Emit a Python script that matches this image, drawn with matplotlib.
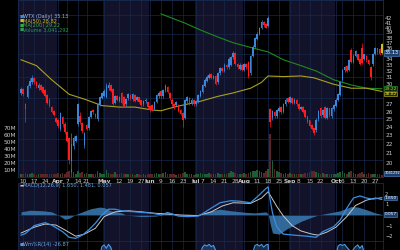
import matplotlib
matplotlib.use('Agg')
import matplotlib.pyplot as plt
import numpy as np
import pandas as pd

# trading days shown (Mar 7 - Oct 30 2014)
holidays = ['2014-04-18', '2014-05-26', '2014-07-04', '2014-09-01']
days = pd.bdate_range('2014-03-07', '2014-10-30')
days = days[~days.isin(pd.to_datetime(holidays))]

opens = [28.6, 29.2, 27.0, 28.0, 29.6, 30.2, 30.8, 30.2, 29.3, 29.8, 29.4, 29.0, 28.3, 27.6, 26.6, 26.0, 25.1, 24.9,
         23.8, 25.2, 24.4, 23.4, 22.6, 20.2, 21.8, 22.4, 24.4, 25.4, 24.5, 21.9, 24.2, 23.9, 25.3, 26.2, 25.6, 25.0, 27.0, 27.9, 28.2,
         28.0, 29.4, 29.7, 29.2, 27.2, 28.1, 27.5, 28.6, 28.0, 27.0, 27.8, 28.3, 27.7, 28.3, 27.6, 27.9, 27.5, 27.0, 27.4, 27.2, 26.7,
         26.9, 26.4, 27.3, 28.1, 28.8, 28.1, 29.0, 29.4, 28.5, 27.6, 27.0, 26.9, 26.8, 26.2, 25.8, 25.2, 27.4, 27.8, 27.1, 27.5, 27.0,
         27.4, 28.2, 28.8, 29.7, 30.4, 30.9, 31.4, 30.9, 31.1, 30.2, 31.6, 32.4, 32.0, 33.0, 32.6, 33.0, 34.3, 35.0, 33.2, 32.4, 33.0, 32.2,
         33.2, 33.5, 31.6, 34.6, 36.2, 37.8, 38.6, 39.9, 41.2, 40.6, 40.4, 26.3, 25.2, 25.9, 25.4, 26.1, 26.5, 26.0, 27.0, 27.8, 27.3,
         27.8, 27.2, 27.6, 27.0, 26.4, 26.6, 26.1, 25.3, 24.8, 24.2, 23.8, 23.6, 25.0, 26.4, 25.5, 26.5, 25.2, 26.4, 25.4, 26.3, 26.8,
         27.6, 28.3, 30.6, 32.1, 32.8, 32.2, 35.6, 33.5, 34.6, 34.8, 34.0, 35.9, 34.0, 34.6, 33.8, 32.6, 33.1, 35.0, 35.9, 35.8, 36.8]
closes = [29.2, 28.4, 26.3, 29.6, 30.4, 30.9, 30.2, 29.6, 29.8, 29.1, 28.6, 28.2, 27.2, 26.8, 26.0, 25.6, 24.7, 24.1,
          25.7, 24.4, 23.4, 22.4, 20.3, 22.0, 22.6, 22.9, 27.0, 24.6, 23.5, 23.2, 23.8, 25.2, 26.0, 25.9, 25.3, 27.0, 28.0, 28.5, 28.8,
          29.6, 29.8, 28.9, 27.0, 28.1, 27.6, 28.0, 27.2, 26.8, 27.7, 28.4, 27.8, 28.4, 27.5, 27.9, 27.3, 26.9, 27.4, 27.6, 26.6, 26.2,
          26.3, 27.3, 28.2, 28.6, 28.1, 29.0, 29.6, 28.8, 27.8, 27.0, 26.6, 27.3, 26.1, 25.7, 24.9, 27.5, 27.9, 27.1, 27.6, 27.0, 27.4,
          28.3, 28.9, 29.8, 30.5, 31.0, 31.3, 30.9, 31.2, 30.0, 31.6, 32.4, 32.0, 33.0, 32.6, 34.0, 34.3, 35.1, 33.2, 32.6, 33.0, 32.2, 33.2,
          32.6, 31.2, 34.6, 36.2, 37.8, 38.6, 39.8, 41.2, 40.5, 40.0, 42.0, 24.6, 26.0, 25.4, 26.2, 26.4, 25.9, 27.0, 27.6, 27.3, 27.9,
          27.2, 27.6, 27.0, 26.4, 26.6, 26.0, 25.3, 24.7, 24.2, 23.8, 23.3, 24.9, 26.0, 25.4, 26.2, 25.2, 26.4, 25.5, 26.4, 26.8, 27.6,
          28.4, 30.2, 32.2, 32.6, 32.0, 33.8, 33.6, 34.6, 35.4, 33.9, 33.2, 33.4, 34.8, 33.8, 33.2, 31.1, 34.9, 35.9, 35.2, 35.0, 35.13]
highs = [29.5, 29.4, 27.2, 29.9, 30.9, 31.3, 31.0, 30.4, 30.1, 30.0, 29.6, 29.2, 28.5, 27.8, 26.8, 26.2, 25.3, 25.0,
         25.9, 25.4, 24.6, 23.5, 22.8, 23.3, 22.9, 23.1, 27.2, 26.0, 24.7, 23.4, 24.4, 25.4, 26.2, 26.4, 25.8, 27.2, 28.2, 28.8, 29.2,
         30.1, 30.2, 29.9, 29.4, 28.3, 28.3, 28.2, 28.8, 28.2, 27.9, 28.6, 28.5, 28.6, 28.5, 28.1, 28.0, 27.6, 27.6, 27.8, 27.3, 26.9,
         27.0, 27.5, 28.4, 28.9, 29.0, 29.2, 30.0, 29.6, 28.7, 27.8, 27.2, 27.5, 27.0, 26.4, 26.0, 27.7, 28.1, 28.0, 27.8, 27.7, 27.6,
         28.5, 29.1, 30.0, 30.8, 31.3, 31.6, 31.6, 31.4, 31.3, 31.8, 32.7, 32.6, 33.3, 33.2, 34.3, 34.6, 35.4, 35.2, 33.4, 33.3, 33.2, 33.4,
         33.4, 33.7, 34.8, 36.5, 38.1, 39.0, 40.1, 41.6, 41.4, 40.9, 42.4, 26.5, 26.2, 26.1, 26.4, 26.7, 26.7, 27.2, 27.9, 28.0, 28.1,
         28.0, 27.8, 27.7, 27.2, 26.8, 26.8, 26.2, 25.4, 24.9, 24.4, 23.9, 25.1, 26.2, 26.6, 26.4, 26.7, 26.6, 26.5, 26.6, 27.0, 27.8,
         28.6, 30.4, 32.4, 32.9, 33.0, 34.0, 36.0, 34.9, 35.7, 35.0, 34.2, 36.9, 35.0, 34.8, 34.0, 32.8, 35.1, 36.2, 36.1, 36.0, 36.9]
lows = [28.3, 28.1, 24.7, 27.8, 29.3, 29.9, 30.0, 29.4, 29.0, 28.9, 28.4, 28.0, 27.0, 26.6, 25.8, 25.4, 24.5, 23.9,
        23.5, 24.0, 23.2, 22.2, 19.9, 19.1, 21.4, 22.2, 24.2, 24.4, 23.3, 21.6, 23.6, 23.7, 25.1, 25.7, 25.1, 24.8, 26.8, 27.7, 28.0,
        27.8, 29.1, 28.7, 26.8, 27.0, 27.4, 27.3, 27.0, 26.6, 26.8, 27.6, 27.6, 27.5, 27.3, 27.4, 27.1, 26.7, 26.8, 27.2, 26.4, 26.0,
        26.1, 26.2, 27.1, 27.9, 27.9, 27.9, 28.8, 28.6, 27.6, 26.8, 26.4, 26.7, 25.9, 25.5, 24.0, 25.0, 27.2, 26.9, 26.9, 26.8, 26.8,
        27.2, 28.0, 28.6, 29.5, 30.2, 30.7, 30.7, 30.7, 29.8, 30.0, 31.4, 31.8, 31.8, 32.4, 32.4, 32.8, 34.1, 33.0, 32.4, 32.2, 32.0, 32.0,
        32.4, 30.9, 31.4, 34.4, 36.0, 37.6, 38.4, 39.7, 40.2, 39.8, 40.2, 24.0, 24.9, 25.2, 25.2, 25.9, 25.7, 25.8, 26.8, 27.1, 27.1,
        27.0, 27.0, 26.8, 26.2, 26.2, 25.8, 25.1, 24.5, 24.0, 23.6, 23.1, 23.4, 24.8, 25.2, 25.3, 25.0, 25.0, 25.3, 25.2, 26.1, 26.6,
        27.4, 28.1, 30.4, 31.9, 31.8, 32.0, 33.4, 33.3, 34.4, 33.7, 33.0, 33.2, 33.8, 33.6, 33.0, 30.6, 32.9, 34.8, 35.0, 34.8, 35.0]
volumes = [4, 5, 6, 4, 5, 6, 4, 3, 4, 5, 4, 4, 5, 4, 5, 5, 4, 6,
           5, 6, 5, 7, 9, 12, 7, 5, 9, 6, 7, 5, 6, 5, 4, 4, 5, 8, 6, 5, 5,
           10, 6, 5, 5, 7, 4, 5, 6, 5, 4, 5, 4, 4, 3, 4, 4, 3, 4, 3, 4, 5,
           4, 5, 6, 5, 4, 6, 7, 5, 5, 4, 4, 3, 4, 4, 6, 7, 5, 4, 4, 3, 4,
           5, 6, 5, 4, 5, 6, 4, 4, 5, 6, 5, 4, 5, 5, 6, 8, 7, 6, 5, 4, 5, 6,
           5, 6, 7, 8, 9, 10, 8, 7, 6, 9, 11, 62, 24, 12, 9, 7, 6, 5, 6, 5, 6,
           4, 5, 5, 4, 4, 5, 6, 6, 7, 8, 9, 7, 6, 5, 6, 5, 5, 4, 5, 4, 5,
           6, 7, 8, 6, 5, 7, 8, 6, 5, 5, 6, 7, 5, 5, 6, 5, 4, 5, 4, 4, 3]

# moving averages (day index, value)
ma50_days = [0, 7, 14, 22, 29, 37, 45, 52, 60, 64, 70, 76, 82, 90, 97, 105, 110, 113, 120, 128, 134, 143, 151, 158, 165]
ma50_vals = [33.9, 32.9, 30.6, 28.4, 27.7, 26.8, 26.6, 26.6, 26.2, 26.1, 26.6, 27.0, 27.4, 28.1, 28.6, 29.3, 30.2, 31.2,
             31.1, 31.2, 30.9, 29.9, 29.3, 29.3, 28.82]
ma200_days = [64, 75, 82, 90, 97, 107, 113, 120, 128, 135, 143, 151, 158, 165]
ma200_vals = [42.9, 40.9, 39.5, 38.1, 37.0, 35.9, 35.3, 33.9, 32.9, 32.0, 30.6, 29.8, 29.3, 29.22]

macd_days = [0, 2, 6, 11, 14, 19, 22, 25, 28, 31, 34, 37, 40, 43, 46, 52, 60, 64, 67, 72, 76, 81, 82, 87, 91, 96, 100,
             105, 109, 112, 113, 114, 115, 116, 117, 118, 120, 125, 131, 135, 138, 143, 146, 149, 152, 155, 158, 161, 165]
macd_vals = [-1.9, -1.75, -1.0, -0.72, -0.95, -1.57, -2.1, -2.2, -1.9, -1.4, -0.77, 0.0, 0.55, 0.55, 0.4, 0.3, 0.17, 0.0,
             0.24, -0.1, -0.15, -0.1, 0.0, 0.65, 1.16, 1.35, 1.3, 1.16, 1.9, 2.5, 2.65, 1.35, 0.2, -0.5, -1.1, -1.4, -1.8,
             -1.9, -2.0, -2.1, -1.57, -1.1, -0.47, 0.65, 1.6, 1.8, 1.6, 1.5, 1.65]
sig_days = [0, 6, 11, 16, 20, 25, 29, 34, 38, 43, 49, 55, 61, 67, 73, 81, 87, 92, 97, 105, 110, 113, 115, 117, 120,
            124, 128, 133, 136, 140, 144, 149, 153, 158, 162, 165]
sig_vals = [-1.7, -1.15, -0.85, -0.95, -1.4, -2.0, -1.8, -1.25, -0.15, 0.3, 0.4, 0.3, 0.17, 0.1, 0.0, -0.05, 0.3, 0.85,
            1.16, 1.1, 1.6, 2.2, 1.5, 0.8, -0.1, -1.0, -1.5, -1.8, -1.9, -1.6, -1.15, -0.15, 0.9, 1.4, 1.6, 1.481]
hist_days = [0, 4, 10, 14, 17, 20, 22, 25, 28, 32, 36, 38, 41, 46, 48, 55, 62, 65, 69, 72, 78, 82, 87, 91, 96, 103, 107,
             112, 113, 114, 115, 118, 122, 128, 133, 136, 141, 146, 151, 154, 158, 162, 165]
hist_vals = [0.3, 0.45, 0.4, 0.3, 0.0, -0.4, -0.3, 0.05, 0.3, 0.6, 0.75, 0.7, 0.4, 0.2, 0.0, -0.15, -0.1, 0.15, 0.2, -0.05,
             -0.12, 0.0, 0.4, 0.55, 0.4, 0.25, 0.2, 0.3, 0.1, -0.9, -1.7, -1.8, -1.25, -0.6, -0.2, 0.0, 0.2, 0.4, 0.8, 0.75,
             0.5, 0.2, 0.057]

wr_days = [0, 10, 20, 30, 36, 37, 38, 39, 40, 41, 43, 50, 60, 70, 80, 83, 84, 85, 86, 87, 88, 90, 100, 106, 107, 108, 109,
           110, 111, 112, 113, 114, 125, 135, 144, 145, 146, 147, 148, 149, 151, 153, 154, 155, 156, 158, 160, 165]
wr_vals = [-60, -40, -95, -70, -20, -5, -2, -8, -1, -6, -30, -50, -70, -80, -40, -6, -2, -4, -1, -5, -3, -20, -40, -15, -3,
           -1, -4, -1, -6, -2, -1, -95, -60, -90, -20, -4, -1, -3, -1, -6, -15, -5, -2, -8, -3, -30, -50, -26.87]

tick_info = [('2014-03-10', '10'), ('2014-03-17', '17'), ('2014-03-24', '24'), ('2014-04-01', 'Apr'),
             ('2014-04-07', '7'), ('2014-04-14', '14'), ('2014-04-21', '21'), ('2014-05-01', 'May'),
             ('2014-05-12', '12'), ('2014-05-19', '19'), ('2014-05-27', '27'), ('2014-06-02', 'Jun'),
             ('2014-06-09', '9'), ('2014-06-16', '16'), ('2014-06-23', '23'), ('2014-07-01', 'Jul'),
             ('2014-07-07', '7'), ('2014-07-14', '14'), ('2014-07-21', '21'), ('2014-07-28', '28'),
             ('2014-08-01', 'Aug'), ('2014-08-11', '11'), ('2014-08-18', '18'), ('2014-08-25', '25'),
             ('2014-09-02', 'Sep'), ('2014-09-08', '8'), ('2014-09-15', '15'), ('2014-09-22', '22'),
             ('2014-10-01', 'Oct'), ('2014-10-06', '6'), ('2014-10-13', '13'), ('2014-10-20', '20'), ('2014-10-27', '27')]

# price labels hidden behind the value boxes are left out
price_ticks = [20, 21, 22, 23, 24, 25, 26, 27, 30, 31, 32, 33, 34, 36, 37, 38, 39, 40, 41, 42]
vol_ticks = [10, 20, 30, 40, 50, 60, 70]
macd_ticks = [-2, -1, 1, 2]

# ---- style
BG = '#000000'
NAVY = '#12122a'
GRID = '#17284a'
UP = '#3a86d8'
DOWN = '#ff1c1c'
TXT = '#c8c8c8'

n = len(days)
x = np.arange(n)
o, c, h, l = map(np.array, (opens, closes, highs, lows))
xmin, xmax = -1.4, n - 1 + 0.55

fig = plt.figure(figsize=(4, 2.5), dpi=100, facecolor=BG)
L, W = 18 / 400, 365 / 400
ax_v = fig.add_axes([L, 1 - 177 / 250, W, 177 / 250], facecolor=BG)
ax = fig.add_axes([L, 1 - 177 / 250, W, 177 / 250], facecolor='none', sharex=ax_v)
ax_m = fig.add_axes([L, 1 - 241 / 250, W, 58 / 250], facecolor=BG, sharex=ax_v)
ax_w = fig.add_axes([L, 1 - 300 / 250, W, 59 / 250], facecolor=BG, sharex=ax_v)

# month bands
months = days.to_period('M')
for i, m in enumerate(months.unique()):
    idx = np.where(months == m)[0]
    if i % 2 == 0:
        for a in (ax_v, ax_m, ax_w):
            a.axvspan(idx[0] - 0.5 if i else xmin, idx[-1] + 0.5, color=NAVY, lw=0, zorder=0)

tick_pos = [days.get_loc(pd.Timestamp(d)) for d, _ in tick_info]
for a in (ax_v, ax_m, ax_w):
    for tp in tick_pos:
        a.axvline(tp, color=GRID, lw=0.5, zorder=0.5)

# volume
vcol = ['#1d5c34' if cc >= oo else '#5c2424' for oo, cc in zip(o, c)]
ax_v.bar(x, volumes, width=0.75, color=vcol, zorder=1)
ax_v.set_ylim(0, 177 / 0.7)
ax_v.set_yticks(vol_ticks)
ax_v.set_yticklabels([f'{v}M' for v in vol_ticks])

# price
ax.set_yscale('log')
ax.set_ylim(42 * np.exp((18 - 177) / 195), 42 * np.exp(18 / 195))
for lvl in [20.3, 22.6, 25.1, 27.9, 31.0, 34.9, 38.7, 42.7]:
    ax.axhline(lvl, color=GRID, lw=0.5, zorder=0.5)
ax.plot(ma200_days, ma200_vals, color='#1f8a1f', lw=0.8, zorder=2)
ax.plot(ma50_days, ma50_vals, color='#a8a020', lw=0.8, zorder=2)
col = [UP if cc >= oo else DOWN for oo, cc in zip(o, c)]
col[-1] = '#c8c020'
ax.vlines(x, l, h, colors=col, lw=0.5, zorder=3)
ax.bar(x, np.abs(c - o) + 0.05, bottom=np.minimum(o, c), width=0.75, color=col, zorder=4)
ax.set_yticks(price_ticks)
ax.set_yticklabels([str(p) for p in price_ticks])
ax.yaxis.set_minor_locator(matplotlib.ticker.NullLocator())
ax.yaxis.tick_right()

# macd
ax_m.axhline(0, color=GRID, lw=0.5)
ax_m.fill_between(hist_days, 0, hist_vals, color='#3b7bb4', alpha=0.85, lw=0, zorder=1)
ax_m.plot(sig_days, sig_vals, color='#c8c8c8', lw=0.7, zorder=2)
ax_m.plot(macd_days, macd_vals, color='#3a8ee0', lw=0.9, zorder=3)
ax_m.set_ylim(-2.45, 3.02)
ax_m.set_yticks(macd_ticks)
ax_m.yaxis.tick_right()

# williams %r
ax_w.fill_between(wr_days, -100, wr_vals, color='#2a5a8c', alpha=0.5, lw=0)
ax_w.plot(wr_days, wr_vals, color='#4a9ae8', lw=0.8)
ax_w.set_ylim(-100, 5)
ax_w.set_yticks([])

for a in (ax_v, ax, ax_m, ax_w):
    a.set_xlim(xmin, xmax)
    a.tick_params(length=0, labelsize=4.2, colors=TXT, pad=1.5)
    for s in a.spines.values():
        s.set_color(GRID)
        s.set_linewidth(0.6)
for a in (ax, ax_m, ax_w, ax_v):
    a.tick_params(labelbottom=False)
ax_m.tick_params(labelsize=3.7)

# x tick labels between price and macd panels
for tp, (_, lab) in zip(tick_pos, tick_info):
    ax_v.text(tp, -2 / 177 * ax_v.get_ylim()[1], lab, ha='center', va='top', fontsize=4.2, color=TXT,
              fontweight='bold' if lab.isalpha() else 'normal', clip_on=False)

# value boxes on the right
def box(axis, yv, text, fc, ec, tc='white', fs=3.6):
    axis.text(1.004, yv, text, transform=axis.get_yaxis_transform(), fontsize=fs, color=tc, va='center', ha='left',
              bbox=dict(boxstyle='square,pad=0.08', fc=fc, ec=ec, lw=0.5))

box(ax, 35.13, '35.13', '#1d3f70', '#4a7ab0')
box(ax, 29.25, '29.22', '#0f2a0f', '#2a8a2a', '#c8c820', 3.2)
box(ax, 28.45, '28.82', '#2a2a08', '#a8a020', '#e0e040', 3.2)
box(ax_v, 5.0, '3041292', '#1d3f70', '#4a7ab0', fs=2.5)
box(ax_m, 1.6, '1.650', '#1d3f70', '#4a7ab0', fs=3.1)
box(ax_m, 0.057, '0.057', '#1d3f70', '#4a7ab0', fs=3.1)

# legends
legend_rows = [('WTX (Daily) 35.13', '#9ab8e0', UP), ('MA(50) 28.82', '#c8c020', '#c8c020'),
               ('MA(200) 29.22', '#3aa83a', '#3aa83a'), ('Volume 3,041,292', '#2a9a5a', '#2a9a5a')]
for i, (t, tc, mc) in enumerate(legend_rows):
    yy = 1 - (16.5 + 4.6 * i) / 250
    fig.text(19.5 / 400, yy, '\u25a0', color=mc, fontsize=3.2, va='center')
    fig.text(23 / 400, yy, t, color=tc, fontsize=3.6, va='center')
fig.text(19.5 / 400, 1 - 185.5 / 250, '\u25ac', color='#c8c8c8', fontsize=3.2, va='center')
fig.text(23 / 400, 1 - 185.5 / 250, 'MACD(12,26,9) 1.650, 1.481, 0.057', color='#6aa8e8', fontsize=3.6, va='center')
fig.text(19.5 / 400, 1 - 244.5 / 250, '\u25a0', color='#4a9ae8', fontsize=3.2, va='center')
fig.text(23 / 400, 1 - 244.5 / 250, 'Wm%R(14) -26.87', color='#6aa8e8', fontsize=3.6, va='center')

fig.savefig('out.png', dpi=100, facecolor=BG)
